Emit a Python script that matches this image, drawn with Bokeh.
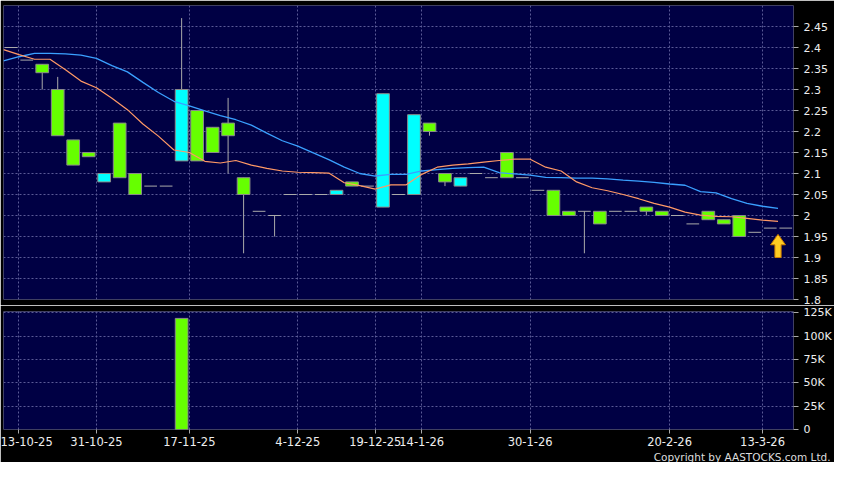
from bokeh.plotting import figure
from bokeh.models import Range1d, FixedTicker, ColumnDataSource, Title, AllLabels
from bokeh.layouts import column
from bokeh.embed import file_html
from bokeh.resources import INLINE

# ---------------- data ----------------
slots = list(range(51))
opens  = [2.40, 2.37, 2.36, 2.30, 2.18, 2.15, 2.08, 2.22, 2.10, 2.07,
          2.07, 2.13, 2.25, 2.21, 2.22, 2.09, 2.01, 2.00, 2.05, 2.05,
          2.05, 2.05, 2.08, 2.07, 2.02, 2.05, 2.05, 2.22, 2.10, 2.07,
          2.10, 2.09, 2.15, 2.09, 2.06, 2.06, 2.01, 2.01, 2.01, 2.01,
          2.01, 2.02, 2.01, 2.00, 1.98, 2.01, 1.99, 2.00, 1.96, 1.97, 1.97]
highs  = [2.40, 2.37, 2.36, 2.33, 2.18, 2.15, 2.10, 2.22, 2.10, 2.07,
          2.07, 2.47, 2.25, 2.21, 2.28, 2.09, 2.01, 2.00, 2.05, 2.05,
          2.05, 2.06, 2.08, 2.07, 2.29, 2.05, 2.24, 2.22, 2.10, 2.09,
          2.10, 2.09, 2.15, 2.09, 2.06, 2.06, 2.01, 2.01, 2.01, 2.01,
          2.01, 2.02, 2.01, 2.00, 1.98, 2.01, 1.99, 2.00, 1.96, 1.97, 1.97]
lows   = [2.40, 2.37, 2.30, 2.19, 2.12, 2.14, 2.08, 2.09, 2.05, 2.07,
          2.07, 2.13, 2.13, 2.15, 2.10, 1.91, 2.01, 1.95, 2.05, 2.05,
          2.05, 2.05, 2.07, 2.07, 2.02, 2.05, 2.05, 2.19, 2.07, 2.07,
          2.10, 2.09, 2.09, 2.09, 2.06, 2.00, 2.00, 1.91, 1.98, 2.01,
          2.01, 2.00, 2.00, 2.00, 1.98, 1.99, 1.98, 1.95, 1.96, 1.97, 1.97]
closes = [2.40, 2.37, 2.34, 2.19, 2.12, 2.14, 2.10, 2.09, 2.05, 2.07,
          2.07, 2.30, 2.13, 2.15, 2.19, 2.05, 2.01, 2.00, 2.05, 2.05,
          2.05, 2.06, 2.07, 2.07, 2.29, 2.05, 2.24, 2.20, 2.08, 2.09,
          2.10, 2.09, 2.09, 2.09, 2.06, 2.00, 2.00, 2.01, 1.98, 2.01,
          2.01, 2.01, 2.00, 2.00, 1.98, 1.99, 1.98, 1.95, 1.96, 1.97, 1.97]
volumes = [0, 0, 0, 0, 0, 0, 0, 0, 0, 0,
           0, 119000, 0, 0, 0, 0, 0, 0, 0, 0,
           0, 0, 0, 0, 0, 0, 0, 0, 0, 0,
           0, 0, 0, 0, 0, 0, 0, 0, 0, 0,
           0, 0, 0, 0, 0, 0, 0, 0, 0, 0, 0]
ma_short = [2.395, 2.383, 2.372, 2.372, 2.347, 2.320, 2.304, 2.279, 2.252, 2.218,
            2.189, 2.156, 2.150, 2.129, 2.125, 2.131, 2.120, 2.112, 2.106, 2.103,
            2.102, 2.101, 2.078, 2.071, 2.063, 2.073, 2.073, 2.098, 2.115, 2.120,
            2.123, 2.127, 2.131, 2.134, 2.134, 2.115, 2.106, 2.080, 2.066, 2.059,
            2.050, 2.040, 2.029, 2.020, 2.008, 2.001, 1.998, 1.997, 1.993, 1.989, 1.986]
ma_long = [2.368, 2.378, 2.386, 2.386, 2.385, 2.382, 2.374, 2.357, 2.342, 2.317,
           2.293, 2.272, 2.261, 2.249, 2.238, 2.228, 2.215, 2.196, 2.178, 2.165,
           2.149, 2.133, 2.115, 2.100, 2.094, 2.098, 2.098, 2.106, 2.109, 2.112,
           2.114, 2.115, 2.102, 2.099, 2.096, 2.091, 2.090, 2.089, 2.089, 2.087,
           2.084, 2.082, 2.079, 2.075, 2.072, 2.057, 2.054, 2.040, 2.029, 2.022, 2.017]
date_tick_slots = [0, 5, 11, 18, 23, 26, 33, 42, 48]
date_tick_labels = ["13-10-25", "31-10-25", "17-11-25", "4-12-25", "19-12-25",
                    "14-1-26", "30-1-26", "20-2-26", "13-3-26"]
price_ticks = [1.8, 1.85, 1.9, 1.95, 2.0, 2.05, 2.1, 2.15, 2.2, 2.25, 2.3, 2.35, 2.4, 2.45]
price_tick_labels = ["1.8", "1.85", "1.9", "1.95", "2", "2.05", "2.1", "2.15", "2.2",
                     "2.25", "2.3", "2.35", "2.4", "2.45"]
vol_ticks = [0, 25000, 50000, 75000, 100000, 125000]
vol_tick_labels = ["0", "25K", "50K", "75K", "100K", "125K"]
arrow_slot = [49.5]
arrow_tip = [1.955]
arrow_base = [1.90]
copyright_text = "Copyright by AASTOCKS.com Ltd."

# ---------------- styles ----------------
NAVY = "#000044"
GREEN = "#66ff00"
CYAN = "#00ffff"
EDGE = "#8a8a8a"
GRID = "#5a5a96"
LABEL = "#eeeeee"
FONT = "DejaVu Sans"
W = 834
BODY_W = 0.82

xr = Range1d(-0.5, 50.5)


def style(fig):
    fig.toolbar.logo = None
    fig.outline_line_color = None
    fig.xgrid.grid_line_color = GRID
    fig.xgrid.grid_line_dash = "2 2"
    fig.ygrid.grid_line_color = GRID
    fig.ygrid.grid_line_dash = "2 2"
    fig.xgrid.ticker = FixedTicker(ticks=[s + 0.5 for s in date_tick_slots])
    for ax in fig.yaxis:
        ax.axis_line_color = None
        ax.major_tick_line_color = "#aaaaaa"
        ax.major_tick_in = 0
        ax.major_tick_out = 5
        ax.minor_tick_line_color = None
        ax.major_label_text_color = LABEL
        ax.major_label_text_font = FONT
        ax.major_label_text_font_size = "11px"
        ax.major_label_standoff = 5
        ax.major_label_policy = AllLabels()


# ---------------- price panel ----------------
p = figure(width=W, height=305, x_range=xr, y_range=Range1d(1.8, 2.5),
           output_backend="svg", toolbar_location=None,
           y_axis_location="right", x_axis_location=None,
           min_border_left=3, min_border_right=39, min_border_top=5, min_border_bottom=6,
           background_fill_color=NAVY, border_fill_color="black")
style(p)
p.yaxis.ticker = FixedTicker(ticks=price_ticks)
p.yaxis.major_label_overrides = {t: l for t, l in zip(price_ticks, price_tick_labels)}

# wicks
p.segment(x0=slots, y0=lows, x1=slots, y1=highs, line_color="#aaaaaa", line_width=1)

# bodies
bx, btop, bbot, bcol = [], [], [], []
fx0, fx1, fy = [], [], []
for i, o, c in zip(slots, opens, closes):
    if c == o:
        fx0.append(i - BODY_W / 2)
        fx1.append(i + BODY_W / 2)
        fy.append(c)
    else:
        bx.append(i)
        btop.append(max(o, c))
        bbot.append(min(o, c))
        bcol.append(CYAN if c > o else GREEN)
p.vbar(x="x", top="top", bottom="bottom", width=BODY_W, fill_color="color",
       line_color=EDGE, line_width=1,
       source=ColumnDataSource(dict(x=bx, top=btop, bottom=bbot, color=bcol)))
p.segment(x0=fx0, y0=fy, x1=fx1, y1=fy, line_color="#aaaaaa", line_width=1)

# moving averages (plotted at slot boundary)
ma_x = [s - 0.5 for s in slots]
p.line(ma_x, ma_long, line_color="#3aa0ff", line_width=1.3)
p.line(ma_x, ma_short, line_color="#ff9966", line_width=1.2)

# arrow marker
ax_, at_, ab_ = arrow_slot[0], arrow_tip[0], arrow_base[0]
hh = (at_ - ab_) * 0.45
p.patch([ax_, ax_ + 0.48, ax_ + 0.2, ax_ + 0.2, ax_ - 0.2, ax_ - 0.2, ax_ - 0.48],
        [at_, at_ - hh, at_ - hh, ab_, ab_, at_ - hh, at_ - hh],
        fill_color="#ffcc22", line_color="#d08000", line_width=1)

# ---------------- volume panel ----------------
v = figure(width=W, height=157, x_range=xr, y_range=Range1d(0, 126400),
           output_backend="svg", toolbar_location=None,
           y_axis_location="right",
           min_border_left=3, min_border_right=39, min_border_top=6, min_border_bottom=30,
           background_fill_color=NAVY, border_fill_color="black")
style(v)
v.yaxis.ticker = FixedTicker(ticks=vol_ticks)
v.yaxis.major_label_overrides = {t: l for t, l in zip(vol_ticks, vol_tick_labels)}
v.ygrid.ticker = FixedTicker(ticks=vol_ticks)

date_ticks = [s + 0.5 for s in date_tick_slots]
xa = v.xaxis[0]
xa.ticker = FixedTicker(ticks=date_ticks)
xa.major_label_overrides = {t: l for t, l in zip(date_ticks, date_tick_labels)}
xa.axis_line_color = None
xa.major_tick_line_color = "#aaaaaa"
xa.major_tick_in = 0
xa.major_tick_out = 4
xa.minor_tick_line_color = None
xa.major_label_text_color = LABEL
xa.major_label_text_font = FONT
xa.major_label_text_font_size = "11.5px"
xa.major_label_standoff = 3
xa.major_label_policy = AllLabels()

vx = [s for s, vol in zip(slots, volumes) if vol > 0]
vv = [vol for vol in volumes if vol > 0]
v.vbar(x=vx, top=vv, bottom=0, width=BODY_W, fill_color=GREEN, line_color=EDGE, line_width=1)

v.add_layout(Title(text=copyright_text, align="right", text_color="#dddddd",
                   text_font=FONT, text_font_size="10.5px", text_font_style="normal",
                   standoff=0, offset=-37), "below")

layout = column(p, v, spacing=0)
open("out.html", "w").write(file_html(layout, INLINE))
